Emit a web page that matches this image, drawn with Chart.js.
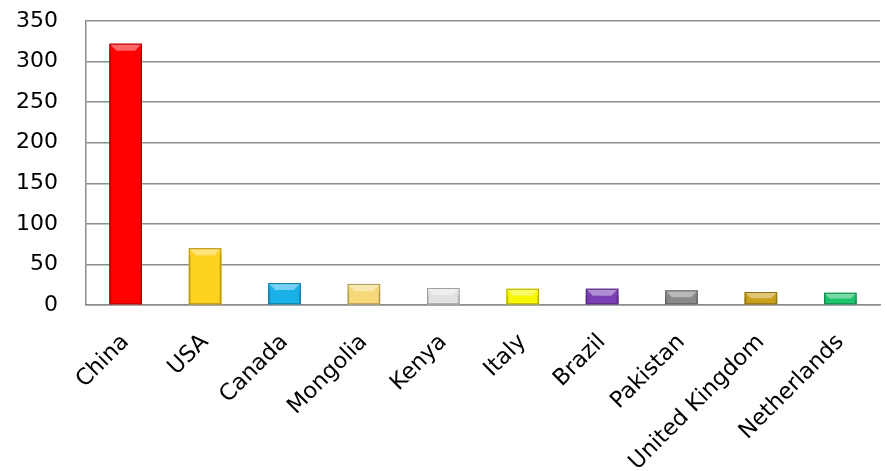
<!DOCTYPE html>
<html>
<head>
<meta charset="utf-8">
<script src="https://cdn.jsdelivr.net/npm/chart.js@4"></script>
<style>
  html, body { margin: 0; padding: 0; background: #fff; }
  #wrap { width: 887px; height: 471px; }
</style>
</head>
<body>
<div id="wrap"><canvas id="chart" width="887" height="471"></canvas></div>
<script>
var countries = ['China', 'USA', 'Canada', 'Mongolia', 'Kenya', 'Italy', 'Brazil', 'Pakistan', 'United Kingdom', 'Netherlands'];
var values = [322, 70, 27, 26, 21, 20, 20, 18, 16, 15];
var barColors = ['#ff0000', '#ffd21f', '#1ab0e8', '#f5d97a', '#e2e2e2', '#f7f700', '#7b3fb5', '#8a8a8a', '#c9a01a', '#1fc46e'];
var yTicks = [0, 50, 100, 150, 200, 250, 300, 350];

// lighten / darken a hex colour
function shade(hex, amt) {
    var n = parseInt(hex.slice(1), 16);
    var r = (n >> 16) & 255, g = (n >> 8) & 255, b = n & 255;
    function f(c) {
        return Math.round(amt > 0 ? c + (255 - c) * amt : c * (1 + amt));
    }
    return 'rgb(' + f(r) + ',' + f(g) + ',' + f(b) + ')';
}

// bevelled look: light top facet, darker rim
var bevel = {
    id: 'bevel',
    afterDatasetsDraw: function (chart) {
        var c = chart.ctx;
        chart.getDatasetMeta(0).data.forEach(function (bar, i) {
            var p = bar.getProps(['x', 'y', 'base', 'width'], true);
            var l = p.x - p.width / 2, r = p.x + p.width / 2;
            var t = p.y, b = p.base;
            var d = Math.min(7, (b - t) / 2);
            var col = barColors[i];
            c.save();
            c.fillStyle = shade(col, 0.4);
            c.beginPath();
            c.moveTo(l, t); c.lineTo(r, t); c.lineTo(r - d, t + d); c.lineTo(l + d, t + d);
            c.closePath(); c.fill();
            c.fillStyle = shade(col, -0.12);
            c.fillRect(l, t + d, 2, b - t - d);
            c.fillRect(r - 2, t + d, 2, b - t - d);
            c.strokeStyle = shade(col, -0.3);
            c.lineWidth = 1;
            c.strokeRect(l + 0.5, t + 0.5, p.width - 1, b - t - 1);
            c.restore();
        });
    }
};

var ctx = document.getElementById('chart').getContext('2d');
var chart = new Chart(ctx, {
    type: 'bar',
    data: {
        labels: countries,
        datasets: [{
            data: values,
            backgroundColor: barColors,
            borderWidth: 0,
            categoryPercentage: 1,
            barPercentage: 0.41
        }]
    },
    options: {
        responsive: false,
        animation: false,
        layout: { padding: { top: 21, right: 7, left: 0, bottom: 0 } },
        plugins: {
            legend: { display: false },
            tooltip: { enabled: false }
        },
        scales: {
            y: {
                min: 0,
                max: 350,
                afterBuildTicks: function (scale) {
                    scale.ticks = yTicks.map(function (v) { return { value: v }; });
                },
                afterFit: function (scale) { scale.width = 86; },
                grid: { color: '#8c8c8c', lineWidth: 1.5, drawTicks: false },
                border: { color: '#8c8c8c', width: 1.5 },
                ticks: {
                    color: '#000',
                    padding: 0,
                    // trailing no-break spaces leave the gap before the axis
                    callback: function (v) { return v + '\u00a0\u00a0\u00a0\u00a0'; },
                    font: { family: 'DejaVu Sans', size: 22 }
                }
            },
            x: {
                afterFit: function (scale) { scale.height = 166; },
                grid: { display: false, drawTicks: false },
                border: { color: '#8c8c8c', width: 1.5 },
                ticks: {
                    color: '#000',
                    maxRotation: 45,
                    minRotation: 45,
                    padding: 24,
                    font: { family: 'DejaVu Sans', size: 22.5 }
                }
            }
        }
    },
    plugins: [bevel]
});
</script>
</body>
</html>
